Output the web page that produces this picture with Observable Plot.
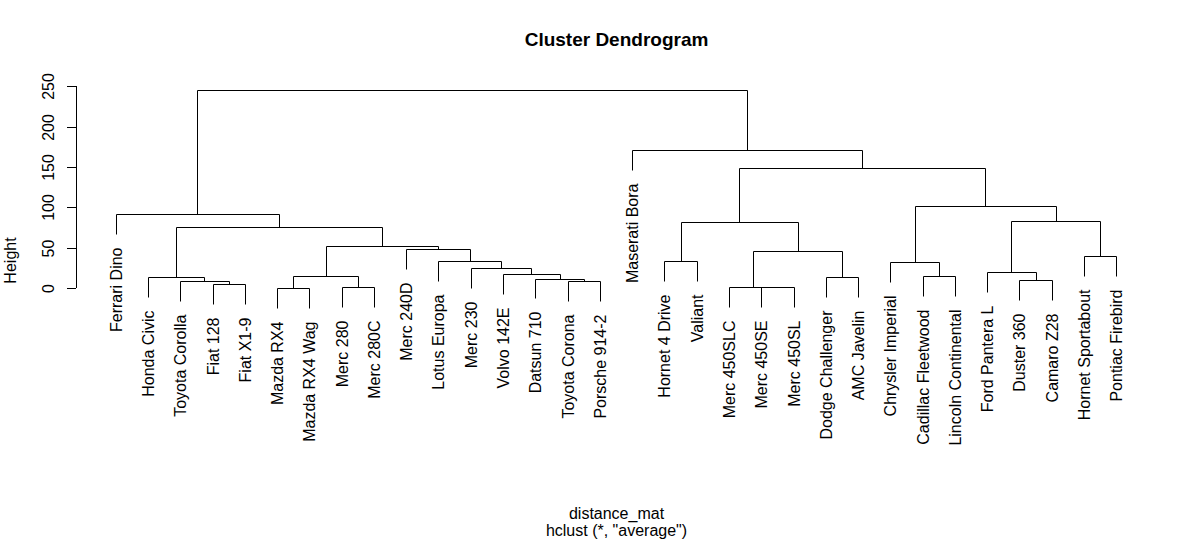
<!DOCTYPE html>
<html>
<head>
<meta charset="utf-8">
<script src="https://cdn.jsdelivr.net/npm/d3@7"></script>
<script src="https://cdn.jsdelivr.net/npm/@observablehq/plot@0.6"></script>
<style>
  html, body { margin: 0; padding: 0; background: #fff; }
  #chart { width: 1180px; height: 541px; }
  svg { font-family: "Liberation Sans", Arial, sans-serif; }
</style>
</head>
<body>
<div id="chart"></div>
<script>
// Leaf labels in dendrogram order
const leaves = [
  "Ferrari Dino", "Honda Civic", "Toyota Corolla", "Fiat 128", "Fiat X1-9",
  "Mazda RX4", "Mazda RX4 Wag", "Merc 280", "Merc 280C", "Merc 240D",
  "Lotus Europa", "Merc 230", "Volvo 142E", "Datsun 710", "Toyota Corona",
  "Porsche 914-2", "Maserati Bora", "Hornet 4 Drive", "Valiant", "Merc 450SLC",
  "Merc 450SE", "Merc 450SL", "Dodge Challenger", "AMC Javelin", "Chrysler Imperial",
  "Cadillac Fleetwood", "Lincoln Continental", "Ford Pantera L", "Duster 360", "Camaro Z28",
  "Hornet Sportabout", "Pontiac Firebird"
];

// Merge table (R hclust style): negative = leaf position (1-based), positive = earlier merge row
const mergeLeft  = [ -6, -21, -8, -20, -4, -3, -15, -29, -14, -2, -23,  1, -26, -13, -28, -12, -25, -11, -18, -31,  4, -10, 12, 10, 19, 15, -1, 17, 25, -17, 27];
const mergeRight = [ -7, -22, -9,   2, -5,  5, -16, -30,   7,  6, -24,  3, -27,   9,   8,  14,  13,  16, -19, -32, 11,  18, 22, 23, 21, 20, 24, 26, 28,  29, 30];
const mergeHeight = [0.6, 1.0, 1.5, 1.7, 4.9, 8.6, 8.6, 9.9, 11.9, 13.6, 13.6, 14.8, 14.8, 17.7, 19.8, 25.1, 32.1, 33.4, 33.4, 39.6, 45.7, 48.2, 52.3, 75.8, 81.6, 82.8, 91.5, 101.4, 148.4, 170.6, 244.8];

const yTicks = [0, 50, 100, 150, 200, 250];

// ---- build segments from the merge table ----
const n = leaves.length;
const hang = 0.1 * (d3.max(mergeHeight) - d3.min(mergeHeight));
const nodeX = [], nodeH = [];
const segs = [];
const leafPts = [];
function childInfo(c, parentH) {
  if (c < 0) {
    const x = -c;
    const bottom = parentH - hang;
    leafPts.push({x, y: bottom, name: leaves[x - 1]});
    return {x, y: bottom};
  }
  return {x: nodeX[c - 1], y: nodeH[c - 1]};
}
mergeLeft.forEach((l, i) => {
  const h = mergeHeight[i];
  const a = childInfo(l, h), b = childInfo(mergeRight[i], h);
  nodeX[i] = (a.x + b.x) / 2;
  nodeH[i] = h;
  segs.push({x1: a.x, y1: h, x2: b.x, y2: h});
  segs.push({x1: a.x, y1: a.y, x2: a.x, y2: h});
  segs.push({x1: b.x, y1: b.y, x2: b.x, y2: h});
});

const xPad = 0.04 * (n - 1);
const font = "Liberation Sans, Arial, sans-serif";

const chart = Plot.plot({
  width: 1180,
  height: 541,
  marginLeft: 76,
  marginRight: 24,
  marginTop: 82,
  marginBottom: 225,
  style: {fontFamily: font, fontSize: "16px", color: "#000", background: "#fff"},
  x: {domain: [1, n], range: [115.7, 1116.3], round: true, axis: null},
  y: {domain: [0, 250], range: [288.3, 86.1], round: true, axis: null},
  marks: [
    Plot.link(segs, {x1: "x1", y1: "y1", x2: "x2", y2: "y2", stroke: "#000", strokeWidth: 1}),
    Plot.text(leafPts, {x: "x", y: "y", text: "name", rotate: -90, textAnchor: "end",
      lineAnchor: "middle", dy: 13, fontSize: 16, fill: "#000"}),
    // y axis
    Plot.ruleX([1 - xPad], {y1: yTicks[0], y2: yTicks[yTicks.length - 1], stroke: "#000"}),
    Plot.axisY(yTicks, {anchor: "left", tickSize: 9, tickPadding: 14, tickRotate: -90,
      fontSize: 16, label: null, stroke: "#000", fill: "#000"}),
    // titles
    Plot.text(["Height"], {frameAnchor: "left", rotate: -90, textAnchor: "middle",
      lineAnchor: "bottom", dx: -61, dy: 61, fontSize: 16, fill: "#000"}),
    Plot.text(["Cluster Dendrogram"], {frameAnchor: "top", textAnchor: "middle",
      lineAnchor: "bottom", dy: -36.6, fontSize: 19, fontWeight: "bold", fill: "#000"}),
    Plot.text(["distance_mat"], {frameAnchor: "bottom", textAnchor: "middle",
      lineAnchor: "bottom", dy: 202.5, fontSize: 16, fill: "#000"}),
    Plot.text(['hclust (*, "average")'], {frameAnchor: "bottom", textAnchor: "middle",
      lineAnchor: "bottom", dy: 219, fontSize: 16, fill: "#000"})
  ]
});
document.getElementById("chart").appendChild(chart);
</script>
</body>
</html>
